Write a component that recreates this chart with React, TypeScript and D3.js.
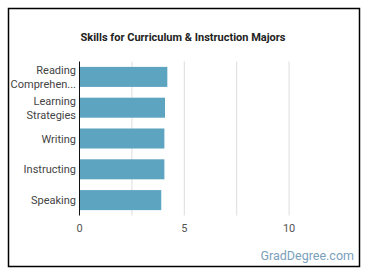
import React from "react";
import * as d3 from "d3";

const categories = ["Reading Comprehension", "Learning Strategies", "Writing", "Instructing", "Speaking"];
const labelLines = [["Reading", "Comprehen..."], ["Learning", "Strategies"], ["Writing"], ["Instructing"], ["Speaking"]];
const values = [4.19, 4.08, 4.05, 4.05, 3.9];
const tickValues = [0, 5, 10];
const gridValues = [2.5, 5, 7.5, 10];

export default function App() {
  const W = 370, H = 278;
  const x = d3.scaleLinear().domain([0, 12.5]).range([79.5, 341.5]);
  const y = d3.scaleBand<string>().domain(categories).range([61.5, 215.5]).paddingInner(0.35).paddingOuter(0.175);
  const font = "Roboto, 'Noto Sans', sans-serif";
  return (
    <svg width={W} height={H} style={{ position: "fixed", left: 0, top: 0 }} fontFamily={font}>
      <rect x={0} y={0} width={W} height={H} fill="#fff" />
      <rect x={8.5} y={8.5} width={351} height={258} fill="none" stroke="#000" strokeWidth={1.5} />
      <text x={183} y={40.5} textAnchor="middle" fontSize={11} fontWeight="bold" fill="#222">
        Skills for Curriculum &amp; Instruction Majors
      </text>
      {gridValues.map((g) => (
        <line key={g} x1={x(g)} x2={x(g)} y1={61.5} y2={215.5} stroke="#ddd" strokeWidth={1} />
      ))}
      {categories.map((c, i) => (
        <rect key={c} x={x(0)} y={y(c)!} width={x(values[i]) - x(0)} height={y.bandwidth()} fill="#5da4c1" />
      ))}
      <line x1={x(0)} x2={x(0)} y1={61.5} y2={215.5} stroke="#111" strokeWidth={1} />
      {categories.map((c, i) => {
        const lines = labelLines[i];
        const cy = y(c)! + y.bandwidth() / 2;
        return (
          <text key={c} x={76} textAnchor="end" fontSize={11} fill="#444">
            {lines.map((l, j) => (
              <tspan key={j} x={76} y={cy + 4 + (j - (lines.length - 1) / 2) * 14}>{l}</tspan>
            ))}
          </text>
        );
      })}
      {tickValues.map((t) => (
        <text key={t} x={x(t)} y={232} textAnchor="middle" fontSize={11} fill="#555">{t}</text>
      ))}
      <text x={354} y={260} textAnchor="end" fontSize={12.5} fill="#7aa0bb">GradDegree.com</text>
    </svg>
  );
}
